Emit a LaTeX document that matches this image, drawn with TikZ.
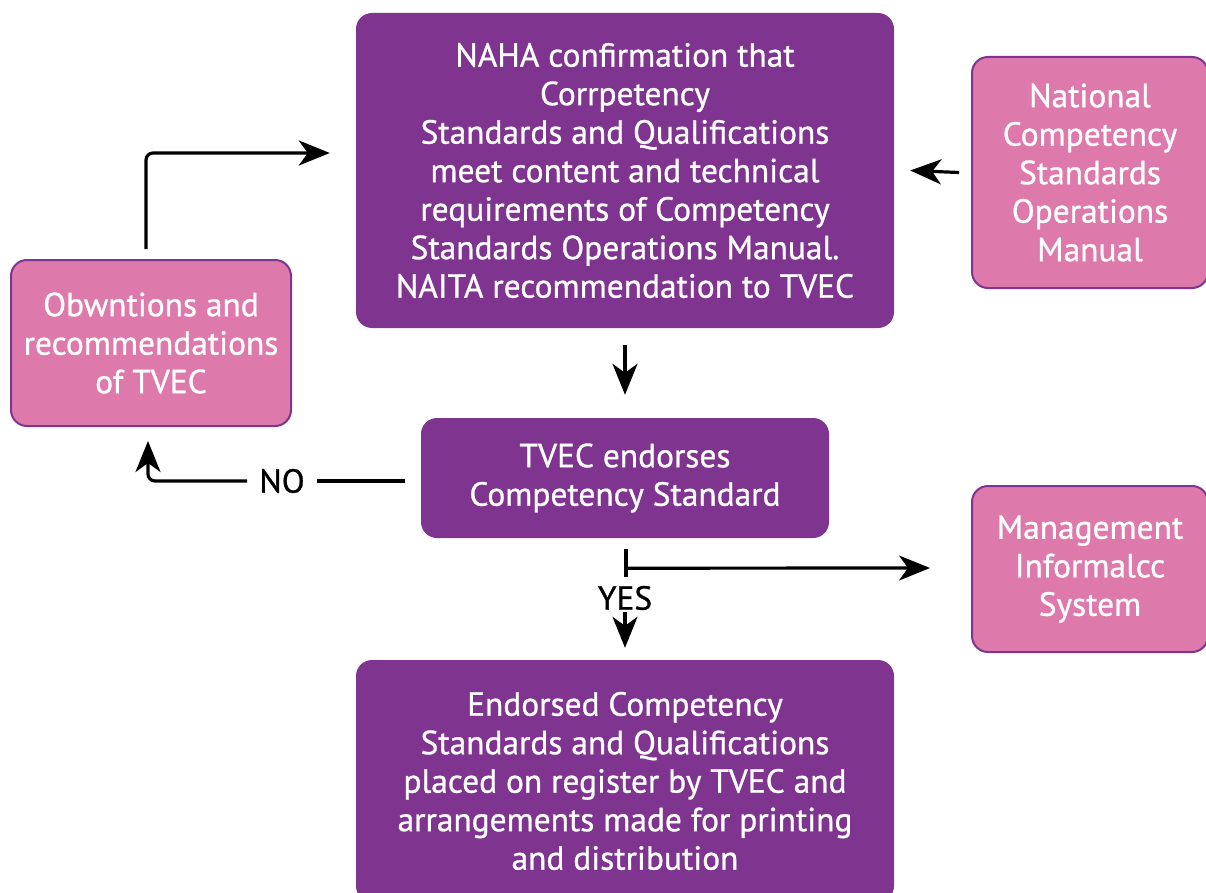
\documentclass[tikz,border=0pt]{standalone}
\usepackage{fontspec}
\setmainfont[FakeBold=0.8]{PT Sans}
\usetikzlibrary{arrows.meta,calc}
\definecolor{dpurple}{HTML}{7F3590}
\definecolor{lpink}{HTML}{DE79AC}
\tikzset{
  base/.style={rounded corners=16pt, align=center, text=white, inner sep=0pt,
    font=\fontsize{33.4}{38.5}\selectfont},
  darkbox/.style={base, fill=dpurple},
  pinkbox/.style={base, fill=lpink, draw=dpurple, line width=2pt},
  arr/.style={line width=3.2pt, -{Stealth[length=31pt,width=25pt,inset=9pt]}},
  ln/.style={line width=3.2pt},
  lbl/.style={font=\fontsize{33.4}{38.5}\selectfont, text=black, inner sep=0pt}
}
\begin{document}
\begin{tikzpicture}[x=1pt,y=-1pt]
\useasboundingbox (0,0) rectangle (1206,893);
\node[darkbox, minimum width=538pt, minimum height=315pt] (A) at (625,170.5)
  {NAHA confirmation that\\Corrpetency\\Standards and Qualifications\\meet content and technical\\requirements of Competency\\Standards Operations Manual.\\NAITA recommendation to TVEC};
\node[pinkbox, minimum width=236pt, minimum height=231pt] (B) at (1090,172.5)
  {National\\Competency\\Standards\\Operations\\Manual};
\node[pinkbox, minimum width=280pt, minimum height=166pt] (C) at (151,343)
  {Obwntions and\\recommendations\\of TVEC};
\node[darkbox, minimum width=408pt, minimum height=120pt] (D) at (625,478)
  {TVEC endorses\\Competency Standard};
\node[pinkbox, minimum width=236pt, minimum height=166pt] (E) at (1090,569)
  {Management\\Informalcc\\System};
\node[darkbox, minimum width=538pt, minimum height=242pt] (F) at (625,781)
  {Endorsed Competency\\Standards and Qualifications\\placed on register by TVEC and\\arrangements made for printing\\and distribution};
% A -> D
\draw[arr, shorten <=17pt, shorten >=23pt] (A.south) -- (D.north);
% B -> A
\draw[arr] ($(B.west)+(-12,0)$) -- ($(A.east)+(16,0)$);
% C -> A
\draw[arr, rounded corners=7pt] ($(C.north)+(-5,-10)$) |- ($(A.west)+(-26,-17.5)$);
% D -> C (NO)
\node[lbl] (no) at (282,481) {NO};
\draw[ln] ($(D.west)+(-16,3)$) -- ($(no.east)+(12,0)$);
\draw[arr, rounded corners=7pt] ($(no.west)+(-12,0)$) -| ($(C.south)+(-3,14)$);
% YES
\coordinate (t1) at ($(D.south)+(1,11)$);
\coordinate (t2) at ($(D.south)+(1,39)$);
\draw[ln] (t1) -- (t2);
\draw[arr] ($(D.south)+(1,30)$) -- ($(E.west)+(-41,-1)$);
\node[lbl] (yes) at (625,598) {YES};
\draw[arr, shorten <=2pt, shorten >=12pt] (yes.south) -- (F.north);
\end{tikzpicture}
\end{document}
